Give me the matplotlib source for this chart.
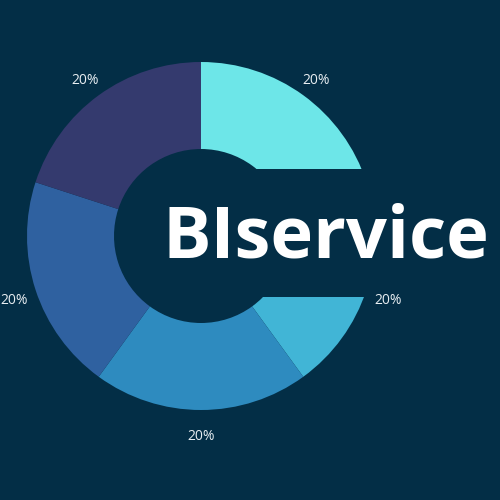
import matplotlib
matplotlib.use('Agg')
import matplotlib.pyplot as plt
from matplotlib.patches import Rectangle

# slices (all equal shares)
names = ['A', 'B', 'C', 'D', 'E']
shares = [20, 20, 20, 20, 20]
colors = ['#6de6e8', '#41b5d6', '#2e8bbf', '#2f61a0', '#343a6e']
bg = '#032e46'
title = 'BIservice'

plt.rcParams['font.family'] = ['Open Sans', 'DejaVu Sans']

fig = plt.figure(figsize=(5, 5), dpi=100, facecolor=bg)
ax = fig.add_axes([0, 0, 1, 1])
ax.set_facecolor(bg)

wedges, _, autotexts = ax.pie(shares, colors=colors, startangle=90, counterclock=False,
                              center=(201, 264), radius=174,
                              wedgeprops=dict(width=87, linewidth=0),
                              autopct='%1.0f%%', pctdistance=1.13,
                              textprops=dict(color='#e8eef2', fontsize=10))
for t in autotexts:
    x, y = t.get_position()
    t.set_position((x, y - 4))
    t.set_zorder(5)

# band cut out behind the title
ax.add_patch(Rectangle((200, 500 - 297), 300, 128, facecolor=bg, edgecolor='none', zorder=3))
ax.text(326, 262, title, color='white', fontsize=52, fontweight='bold',
        ha='center', va='center', zorder=4)

ax.set_xlim(0, 500)
ax.set_ylim(0, 500)
ax.axis('off')

fig.savefig('out.png', dpi=100, facecolor=bg)
